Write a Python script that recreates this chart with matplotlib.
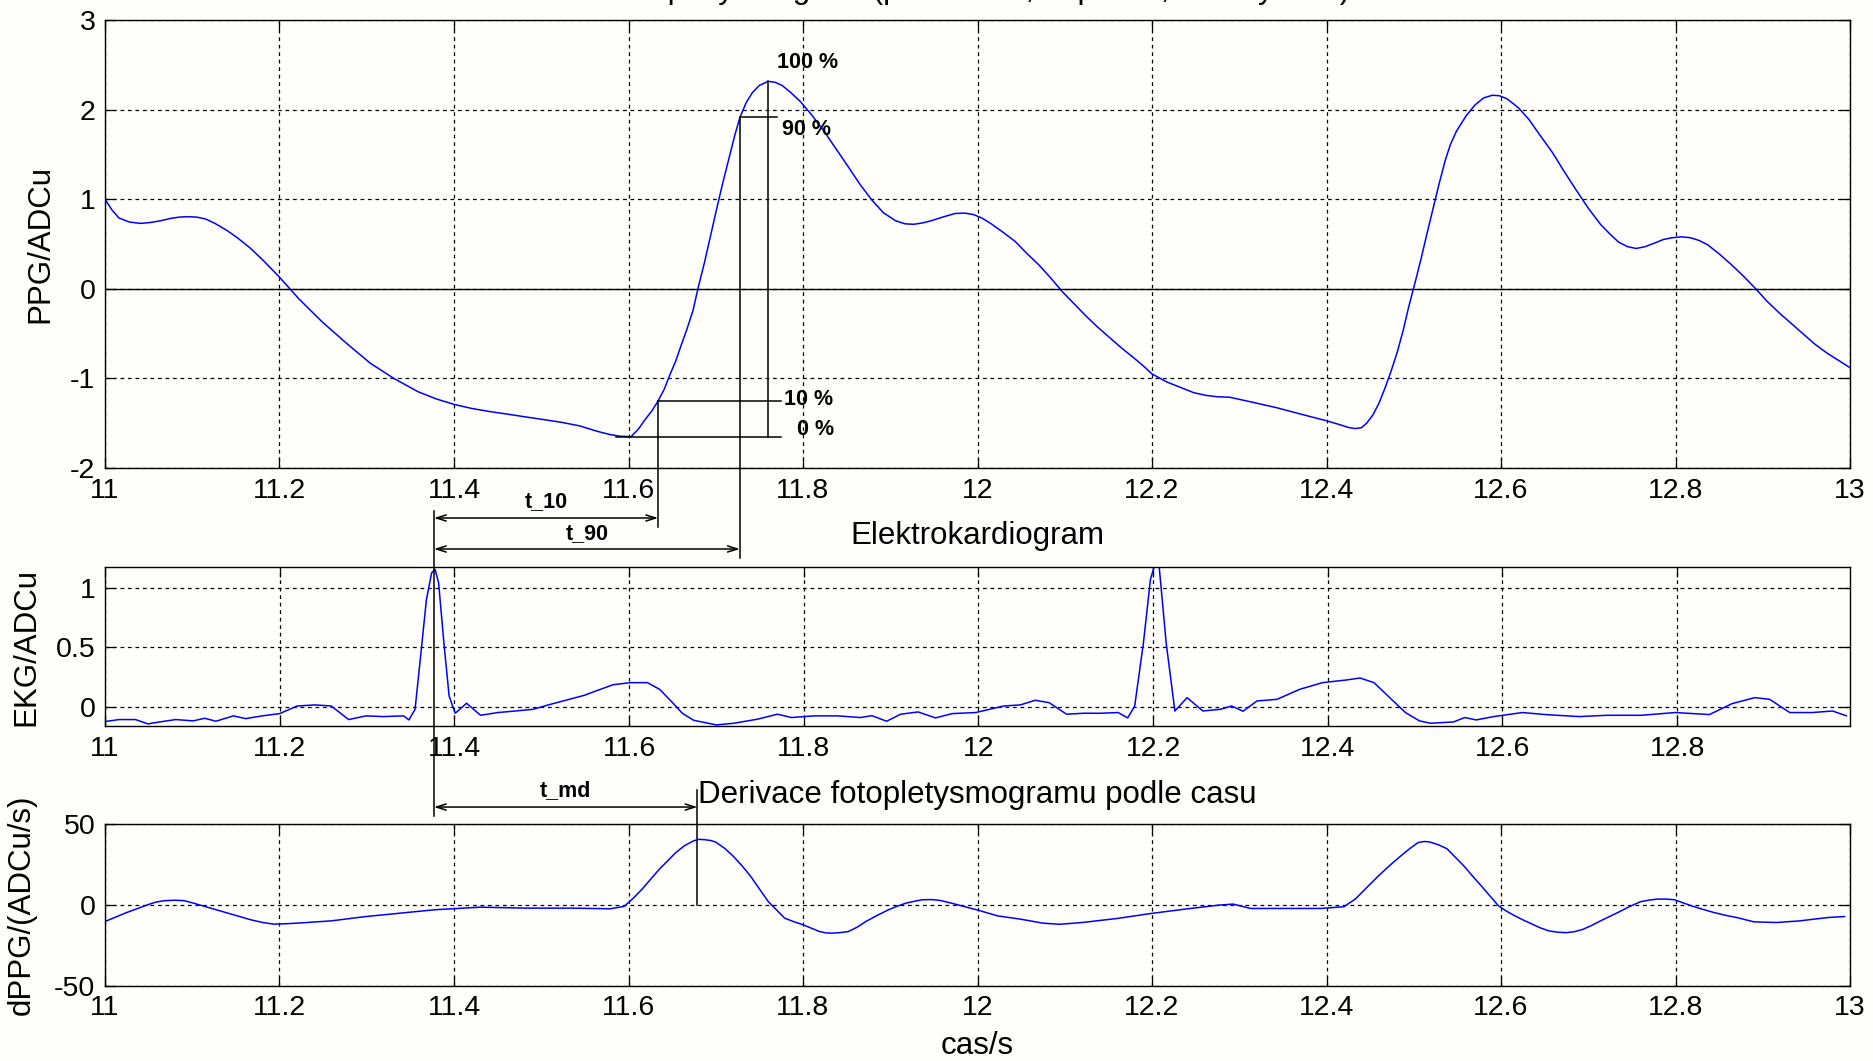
import numpy as np
import matplotlib
matplotlib.use("Agg")
import matplotlib.pyplot as plt
from matplotlib.lines import Line2D

plt.rcParams['font.family'] = ['Liberation Sans', 'DejaVu Sans']

# ---------------- data ----------------
# photoplethysmogram (PPG), time in s, amplitude in ADC units
ppg_t = [11.000, 11.008, 11.016, 11.028, 11.041, 11.052, 11.064, 11.075, 11.085, 11.095,
         11.105, 11.115, 11.126, 11.140, 11.153, 11.167, 11.181, 11.200, 11.222, 11.249,
         11.277, 11.304, 11.331, 11.359, 11.380, 11.400, 11.420, 11.441, 11.462, 11.482,
         11.503, 11.523, 11.544, 11.564, 11.578, 11.590, 11.603, 11.611, 11.619, 11.627,
         11.634, 11.641, 11.647, 11.654, 11.660, 11.667, 11.674, 11.680, 11.687, 11.694,
         11.701, 11.708, 11.715, 11.722, 11.728, 11.735, 11.742, 11.750, 11.760, 11.768,
         11.776, 11.786, 11.797, 11.810, 11.824, 11.838, 11.852, 11.865, 11.879, 11.892,
         11.906, 11.917, 11.927, 11.937, 11.947, 11.960, 11.974, 11.985, 11.995, 12.005,
         12.015, 12.028, 12.043, 12.056, 12.070, 12.084, 12.097, 12.111, 12.125, 12.138,
         12.152, 12.165, 12.179, 12.190, 12.200, 12.217, 12.235, 12.248, 12.262, 12.275,
         12.289, 12.303, 12.317, 12.344, 12.371, 12.399, 12.413, 12.426, 12.433, 12.440,
         12.446, 12.453, 12.460, 12.467, 12.474, 12.481, 12.488, 12.494, 12.501, 12.508,
         12.515, 12.522, 12.529, 12.536, 12.542, 12.549, 12.560, 12.570, 12.580, 12.590,
         12.598, 12.607, 12.620, 12.632, 12.645, 12.659, 12.673, 12.687, 12.700, 12.714,
         12.725, 12.735, 12.745, 12.755, 12.765, 12.776, 12.786, 12.796, 12.807, 12.817,
         12.827, 12.837, 12.850, 12.864, 12.878, 12.892, 12.905, 12.919, 12.933, 12.947,
         12.960, 12.974, 12.987, 13.000]
ppg_v = [1.00, 0.88, 0.79, 0.745, 0.73, 0.74, 0.76, 0.785, 0.80, 0.805,
         0.80, 0.78, 0.73, 0.65, 0.56, 0.45, 0.32, 0.13, -0.11, -0.37,
         -0.61, -0.83, -1.00, -1.15, -1.23, -1.29, -1.335, -1.37, -1.40, -1.43,
         -1.46, -1.49, -1.53, -1.59, -1.625, -1.645, -1.65, -1.57, -1.46, -1.36,
         -1.25, -1.12, -0.97, -0.81, -0.64, -0.45, -0.24, 0.02, 0.29, 0.59,
         0.89, 1.18, 1.45, 1.72, 1.92, 2.08, 2.19, 2.27, 2.315, 2.305,
         2.27, 2.19, 2.09, 1.94, 1.76, 1.56, 1.36, 1.17, 0.99, 0.85,
         0.76, 0.725, 0.72, 0.735, 0.76, 0.80, 0.84, 0.845, 0.83, 0.79,
         0.73, 0.64, 0.53, 0.40, 0.27, 0.12, -0.03, -0.17, -0.31, -0.43,
         -0.55, -0.66, -0.77, -0.86, -0.95, -1.04, -1.11, -1.16, -1.19, -1.205,
         -1.21, -1.24, -1.27, -1.33, -1.40, -1.47, -1.51, -1.55, -1.56, -1.55,
         -1.50, -1.41, -1.28, -1.11, -0.92, -0.71, -0.46, -0.21, 0.05, 0.32,
         0.61, 0.89, 1.17, 1.43, 1.61, 1.76, 1.93, 2.05, 2.13, 2.16,
         2.155, 2.12, 2.02, 1.89, 1.71, 1.52, 1.30, 1.09, 0.90, 0.72,
         0.61, 0.52, 0.47, 0.45, 0.47, 0.51, 0.55, 0.57, 0.58, 0.57,
         0.54, 0.49, 0.39, 0.27, 0.14, 0.00, -0.14, -0.27, -0.39, -0.51,
         -0.62, -0.72, -0.80, -0.88]

# electrocardiogram (EKG)
ekg_t = [11.000, 11.016, 11.035, 11.049, 11.068, 11.081, 11.101, 11.114, 11.127, 11.147,
         11.161, 11.180, 11.200, 11.220, 11.240, 11.259, 11.279, 11.299, 11.319, 11.342,
         11.348, 11.355, 11.361, 11.368, 11.374, 11.378, 11.382, 11.388, 11.394, 11.401,
         11.414, 11.430, 11.450, 11.470, 11.490, 11.509, 11.529, 11.549, 11.562, 11.582,
         11.602, 11.621, 11.635, 11.648, 11.661, 11.674, 11.700, 11.720, 11.747, 11.770,
         11.786, 11.812, 11.839, 11.865, 11.878, 11.895, 11.911, 11.931, 11.951, 11.970,
         11.997, 12.029, 12.048, 12.065, 12.081, 12.101, 12.120, 12.140, 12.160, 12.171,
         12.179, 12.189, 12.197, 12.202, 12.207, 12.215, 12.225, 12.239, 12.257, 12.277,
         12.290, 12.303, 12.319, 12.342, 12.368, 12.394, 12.421, 12.437, 12.453, 12.473,
         12.489, 12.505, 12.518, 12.544, 12.557, 12.570, 12.590, 12.623, 12.649, 12.688,
         12.720, 12.759, 12.798, 12.837, 12.863, 12.889, 12.906, 12.929, 12.955, 12.978,
         12.994]
ekg_v = [-0.123, -0.106, -0.106, -0.142, -0.120, -0.106, -0.117, -0.095, -0.120, -0.075,
         -0.098, -0.075, -0.056, 0.008, 0.017, 0.008, -0.106, -0.075, -0.081, -0.075,
         -0.109, -0.020, 0.400, 0.900, 1.126, 1.154, 1.040, 0.540, 0.092, -0.053,
         0.031, -0.070, -0.047, -0.034, -0.020, 0.020, 0.059, 0.098, 0.134, 0.187,
         0.204, 0.204, 0.148, 0.050, -0.053, -0.112, -0.151, -0.137, -0.103, -0.061,
         -0.089, -0.075, -0.075, -0.089, -0.073, -0.120, -0.061, -0.042, -0.092, -0.056,
         -0.047, 0.008, 0.017, 0.056, 0.036, -0.061, -0.053, -0.053, -0.047, -0.092,
         0.008, 0.539, 1.070, 1.196, 1.180, 0.539, -0.034, 0.078, -0.034, -0.020,
         0.008, -0.036, 0.050, 0.064, 0.148, 0.204, 0.226, 0.243, 0.204, 0.064,
         -0.047, -0.117, -0.137, -0.126, -0.089, -0.109, -0.081, -0.047, -0.064, -0.081,
         -0.070, -0.070, -0.047, -0.064, 0.028, 0.078, 0.064, -0.047, -0.047, -0.034,
         -0.075]

# time derivative of the PPG
dppg_t = [11.000, 11.023, 11.049, 11.058, 11.068, 11.080, 11.091, 11.102, 11.114, 11.141,
          11.167, 11.180, 11.193, 11.205, 11.220, 11.259, 11.299, 11.338, 11.378, 11.397,
          11.430, 11.483, 11.536, 11.579, 11.595, 11.605, 11.615, 11.625, 11.635, 11.645,
          11.654, 11.664, 11.674, 11.680, 11.687, 11.694, 11.700, 11.710, 11.720, 11.730,
          11.740, 11.750, 11.760, 11.770, 11.779, 11.790, 11.800, 11.810, 11.819, 11.826,
          11.832, 11.842, 11.852, 11.862, 11.872, 11.885, 11.898, 11.908, 11.918, 11.928,
          11.937, 11.947, 11.957, 11.970, 11.984, 12.003, 12.023, 12.049, 12.075, 12.094,
          12.120, 12.160, 12.199, 12.238, 12.277, 12.293, 12.313, 12.349, 12.394, 12.420,
          12.433, 12.446, 12.460, 12.473, 12.486, 12.496, 12.505, 12.512, 12.518, 12.528,
          12.538, 12.547, 12.557, 12.567, 12.577, 12.587, 12.597, 12.606, 12.616, 12.626,
          12.636, 12.645, 12.655, 12.665, 12.675, 12.685, 12.694, 12.704, 12.714, 12.724,
          12.734, 12.747, 12.760, 12.770, 12.779, 12.789, 12.799, 12.808, 12.818, 12.831,
          12.844, 12.857, 12.870, 12.890, 12.916, 12.942, 12.975, 12.994]
dppg_v = [-10.4, -5.2, 0.0, 1.6, 2.5, 2.8, 2.5, 0.9, -1.0, -5.2,
          -9.3, -10.9, -12.0, -11.8, -11.4, -10.0, -7.3, -5.2, -3.1, -2.5,
          -1.5, -2.1, -2.1, -2.5, -1.0, 3.8, 9.3, 15.6, 21.8, 27.3,
          32.2, 36.5, 39.4, 40.5, 40.3, 39.8, 38.8, 35.0, 30.1, 24.2,
          17.6, 9.8, 2.1, -3.4, -8.3, -10.6, -12.4, -14.6, -16.6, -17.4,
          -17.6, -17.3, -16.6, -13.9, -10.4, -6.6, -3.1, -0.9, 1.0, 2.2,
          3.1, 3.2, 2.7, 1.0, -1.0, -3.7, -6.9, -8.9, -11.4, -12.1,
          -11.0, -8.5, -5.4, -2.7, -0.2, 0.4, -2.3, -2.3, -2.3, -1.2,
          3.5, 10.6, 18.1, 24.6, 30.6, 35.0, 38.5, 39.2, 38.9, 37.2,
          34.7, 29.8, 24.3, 18.0, 11.9, 5.6, -0.6, -3.9, -6.9, -9.6,
          -12.1, -14.3, -16.2, -17.0, -17.3, -16.6, -15.2, -12.8, -10.0, -7.4,
          -4.8, -1.2, 1.9, 2.9, 3.5, 3.5, 3.1, 1.3, -0.6, -2.8,
          -4.8, -6.5, -7.9, -10.6, -11.0, -10.0, -7.9, -7.3]

# characteristic time points (s) and PPG levels used for the PTT markers
r_peak_t = 11.377                 # EKG R wave
foot_t, foot_v = 11.603, -1.65    # PPG minimum (0 %)
top_t, top_v = 11.760, 2.315      # PPG maximum (100 %)
t10_t = 11.634                    # 10 % crossing
t90_t = 11.7276                   # 90 % crossing
dmax_t = 11.679                   # maximum of dPPG

x_ticks = [11.0, 11.2, 11.4, 11.6, 11.8, 12.0, 12.2, 12.4, 12.6, 12.8, 13.0]
x_labels = ['11', '11.2', '11.4', '11.6', '11.8', '12', '12.2', '12.4', '12.6', '12.8', '13']
ppg_ticks = [-2, -1, 0, 1, 2, 3]
ppg_labels = ['-2', '-1', '0', '1', '2', '3']
ekg_ticks = [0, 0.5, 1]
ekg_labels = ['0', '0.5', '1']
dppg_ticks = [-50, 0, 50]
dppg_labels = ['-50', '0', '50']

# ---------------- figure ----------------
BG = '#fefefa'
TICK_FS = 20.5
LAB_FS = 22.5
ANN_FS = 15.5
LINE_C = '#0000ff'
LINE_KW = dict(color=LINE_C, lw=1.1, solid_joinstyle='round', solid_capstyle='round')

fig = plt.figure(figsize=(18.73, 10.61), dpi=100, facecolor=BG)
L, W = 105 / 1873, 1745 / 1873
ax1 = fig.add_axes([L, 1 - 468 / 1061, W, 448 / 1061], facecolor=BG)
ax2 = fig.add_axes([L, 1 - 726 / 1061, W, 159 / 1061], facecolor=BG)
ax3 = fig.add_axes([L, 1 - 985.5 / 1061, W, 161.5 / 1061], facecolor=BG)

grid_kw = dict(color='k', linestyle=(0, (3, 3)), linewidth=0.9)


def style(ax, xlim, ylim, yticks, ylabels, xticks, xlabels):
    ax.set_xlim(*xlim)
    ax.set_ylim(*ylim)
    ax.set_xticks(xticks)
    ax.set_xticklabels(xlabels)
    ax.set_yticks(yticks)
    ax.set_yticklabels(ylabels)
    ax.tick_params(direction='in', top=True, right=True, length=7, width=0.9,
                   labelsize=TICK_FS, pad=7)
    ax.grid(True, **grid_kw)
    ax.set_axisbelow(True)
    for s in ax.spines.values():
        s.set_linewidth(1.0)
        s.set_color('k')


# --- PPG ---
ax1.plot(ppg_t, ppg_v, **LINE_KW)
ax1.axhline(0, color='k', lw=1.0)
style(ax1, (11, 13), (-2, 3), ppg_ticks, ppg_labels, x_ticks, x_labels)
ax1.set_ylabel('PPG/ADCu', fontsize=LAB_FS)
ax1.yaxis.set_label_coords(-0.0285, 0.5)
fig.text(L + 0.5 * W, 1.0016, 'Fotopletysmogram (proband A, 1. pokus, klidový stav)',
         ha='center', va='baseline', fontsize=LAB_FS)

lvl10 = foot_v + 0.1 * (top_v - foot_v)
lvl90 = foot_v + 0.9 * (top_v - foot_v)
mk = dict(color='k', lw=1.1, clip_on=False)
ax1.plot([11.586, 11.775], [foot_v, foot_v], **mk)          # 0 %
ax1.plot([t10_t, 11.775], [lvl10, lvl10], **mk)            # 10 %
ax1.plot([t90_t, 11.770], [lvl90, lvl90], **mk)            # 90 %
ax1.plot([top_t, top_t], [top_v, foot_v], **mk)            # 100 %
ax1.plot([t10_t, t10_t], [lvl10, -2.66], **mk)
ax1.plot([t90_t, t90_t], [lvl90, -3.005], **mk)

ann = dict(fontsize=ANN_FS, fontweight='bold', va='center', ha='left')
ax1.text(11.770, 2.53, '100 %', **ann)
ax1.text(11.776, 1.78, '90 %', **ann)
ax1.text(11.778, -1.24, '10 %', **ann)
ax1.text(11.793, -1.575, '0 %', **ann)

arrow = dict(arrowstyle='<->,head_length=0.7,head_width=0.22', color='k', lw=1.1,
             shrinkA=0, shrinkB=0)
ax1.annotate('', xy=(t10_t, -2.558), xytext=(r_peak_t, -2.558), xycoords='data',
             arrowprops=arrow, annotation_clip=False)
ax1.annotate('', xy=(t90_t, -2.904), xytext=(r_peak_t, -2.904), xycoords='data',
             arrowprops=arrow, annotation_clip=False)
ax1.text(0.5 * (r_peak_t + t10_t), -2.38, 't_10', fontsize=ANN_FS, fontweight='bold',
         ha='center', va='center', clip_on=False)
ax1.text(0.5 * (r_peak_t + t90_t), -2.737, 't_90', fontsize=ANN_FS, fontweight='bold',
         ha='center', va='center', clip_on=False)

# --- EKG ---
ax2.plot(ekg_t, ekg_v, **LINE_KW)
style(ax2, (11, 12.998), (-0.16, 1.175), ekg_ticks, ekg_labels, x_ticks[:-1], x_labels[:-1])
ax2.set_ylabel('EKG/ADCu', fontsize=LAB_FS)
ax2.yaxis.set_label_coords(-0.0365, 0.5)
ax2.text(0.5, 1 + 31 / 159, 'Elektrokardiogram', transform=ax2.transAxes,
         ha='center', va='center', fontsize=LAB_FS)

# --- dPPG ---
ax3.plot(dppg_t, dppg_v, **LINE_KW)
style(ax3, (11, 13), (-50, 50), dppg_ticks, dppg_labels, x_ticks, x_labels)
ax3.set_ylabel('dPPG/(ADCu/s)', fontsize=LAB_FS)
ax3.yaxis.set_label_coords(-0.039, 0.5)
ax3.set_xlabel('cas/s', fontsize=LAB_FS, labelpad=7)
ax3.text(0.5, 1 + 29 / 161.5, 'Derivace fotopletysmogramu podle casu',
         transform=ax3.transAxes, ha='center', va='center', fontsize=LAB_FS)

ax3.plot([dmax_t, dmax_t], [0, 71], color='k', lw=1.1, clip_on=False)
ax3.annotate('', xy=(dmax_t, 60.5), xytext=(r_peak_t, 60.5), xycoords='data',
             arrowprops=arrow, annotation_clip=False)
ax3.text(0.5 * (r_peak_t + dmax_t), 70.5, 't_md', fontsize=ANN_FS, fontweight='bold',
         ha='center', va='center', clip_on=False)

# R-wave marker running from below the PPG panel down to the dPPG panel
fig.add_artist(Line2D([r_peak_t, r_peak_t], [-2.48, -5.88], transform=ax1.transData,
                      color='k', lw=1.1, zorder=5))

fig.savefig('out.png', dpi=100, facecolor=BG)
